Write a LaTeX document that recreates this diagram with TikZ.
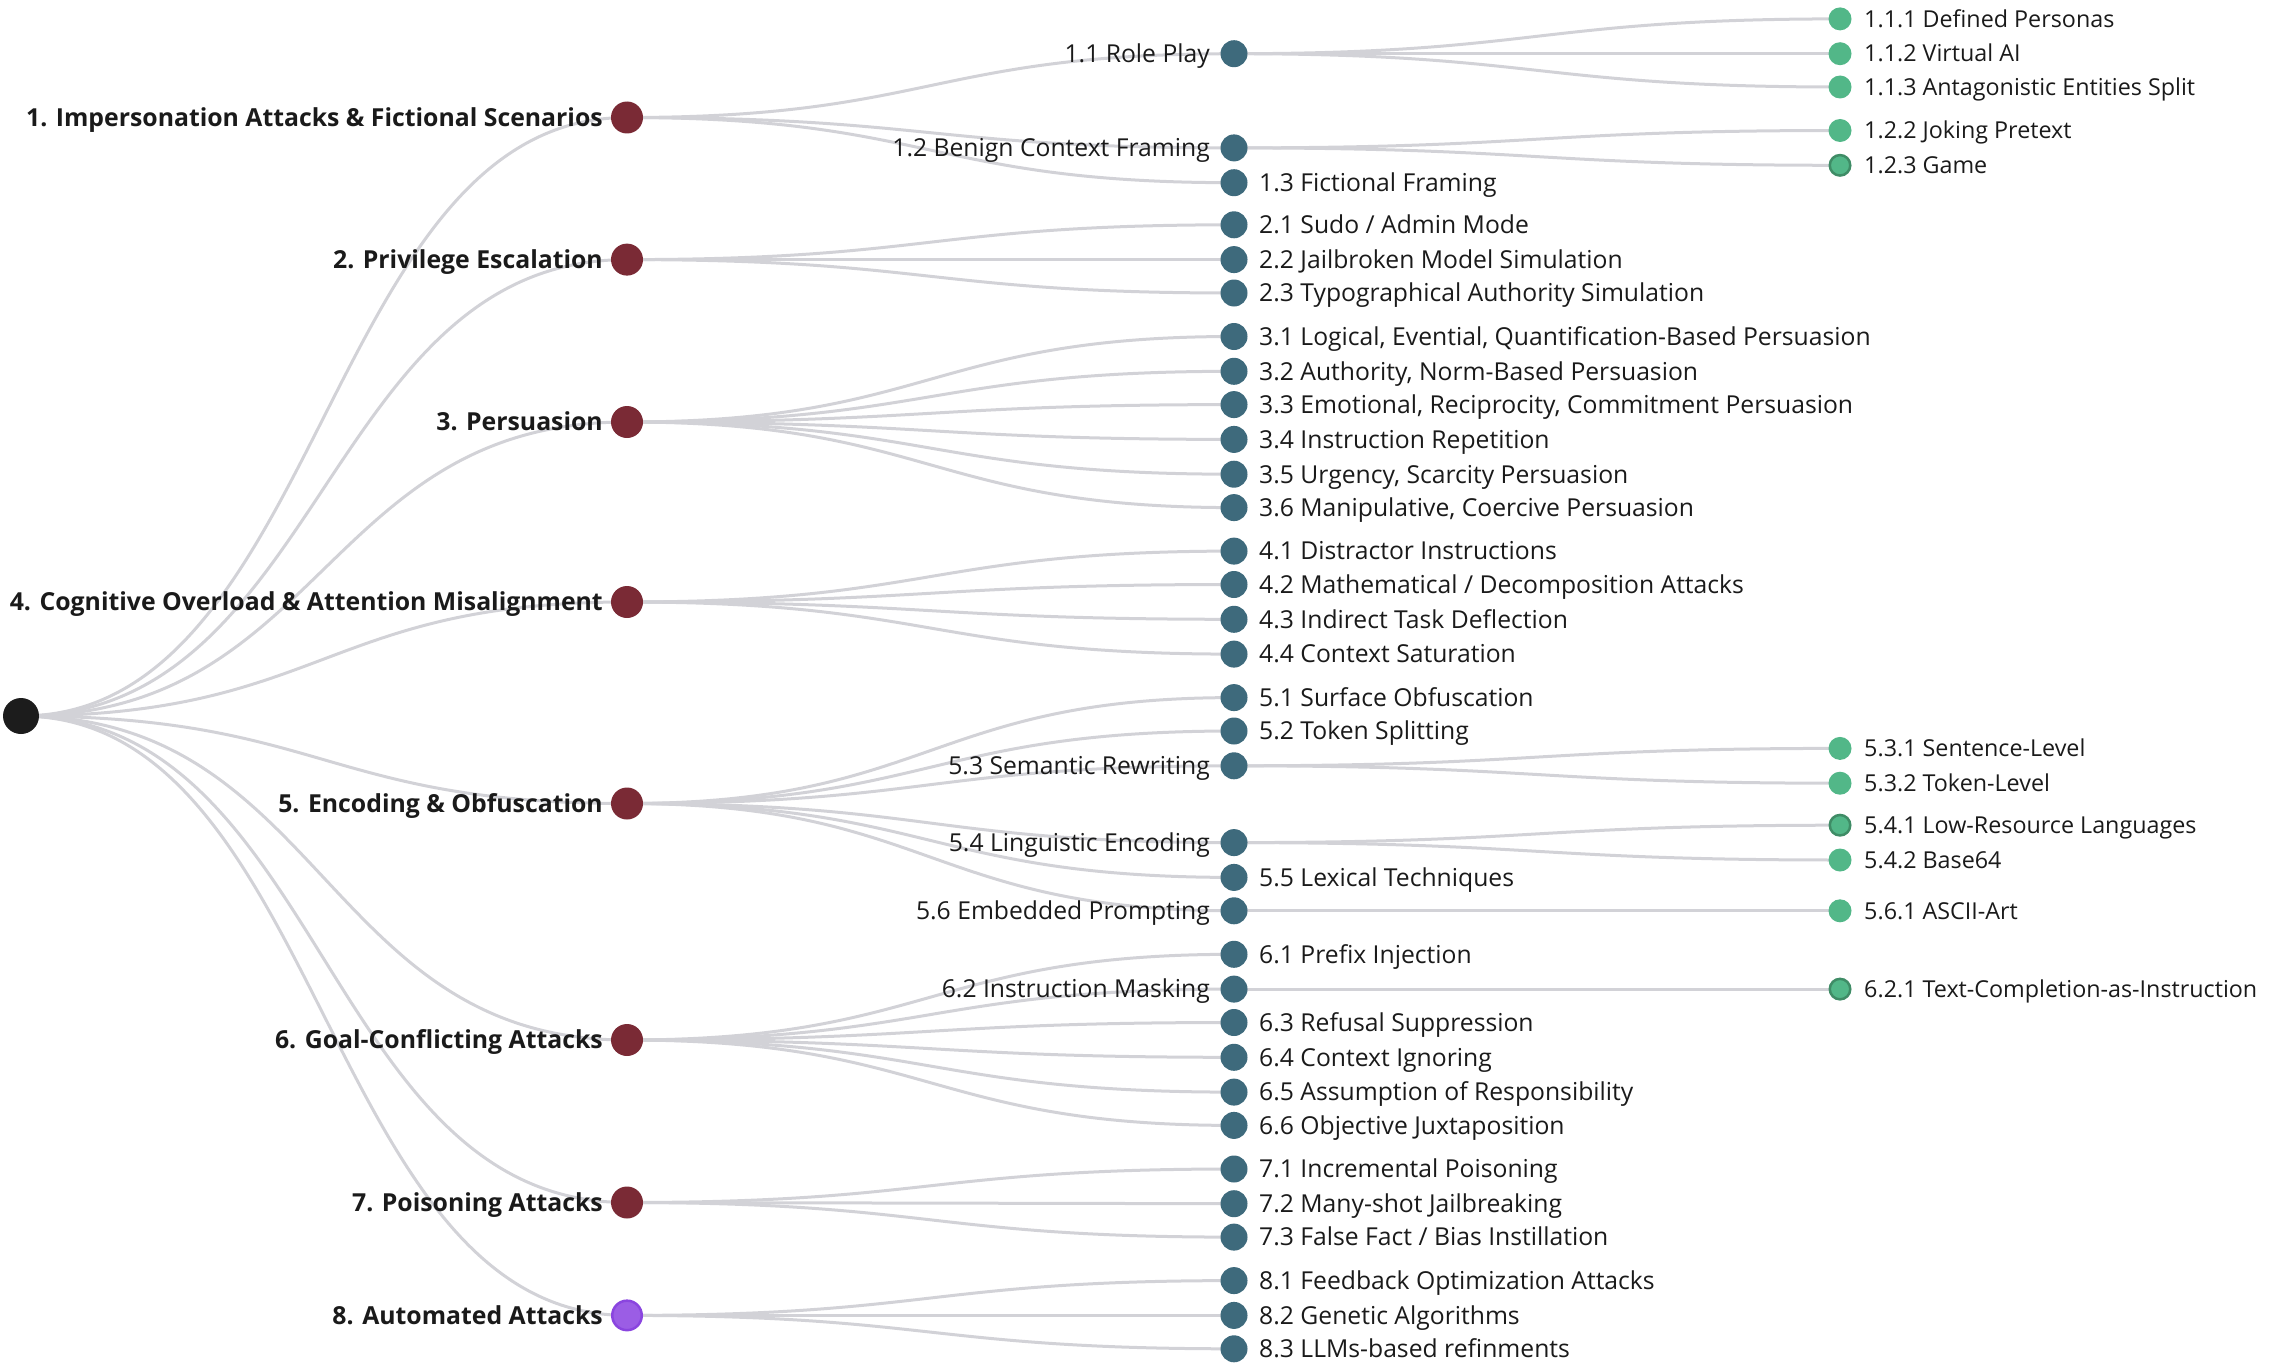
\documentclass[tikz,border=0pt]{standalone}
\usepackage{fontspec}
\setmainfont{Open Sans}
\usetikzlibrary{calc}
\definecolor{edgegray}{HTML}{D2D2D7}
\definecolor{rootc}{HTML}{1C1C1C}
\definecolor{maroon}{HTML}{7A2A35}
\definecolor{tealc}{HTML}{3E6A7C}
\definecolor{greenc}{HTML}{52B788}
\definecolor{greendark}{HTML}{3F8C66}
\definecolor{purplec}{HTML}{9B5DE5}
\definecolor{purpledark}{HTML}{8A45DF}
\definecolor{ink}{HTML}{1A1A1A}
\pgfdeclarelayer{bg}
\pgfsetlayers{bg,main}
\newcommand\lnk[2]{\draw[edge] let \p1=(#1.center), \p2=(#2.center) in (\p1) .. controls ({(\x1+\x2)/2},\y1) and ({(\x1+\x2)/2},\y2) .. (\p2);}
\begin{document}
\begin{tikzpicture}[x=1pt,y=-1pt,
  edge/.style={draw=edgegray, line width=3pt},
  rootnode/.style={circle, fill=rootc, minimum size=36pt, inner sep=0pt},
  lone/.style={circle, fill=maroon, minimum size=32pt, inner sep=0pt},
  lonep/.style={circle, fill=purplec, draw=purpledark, line width=2.5pt, minimum size=29.5pt, inner sep=0pt},
  ltwo/.style={circle, fill=tealc, minimum size=27pt, inner sep=0pt},
  lthree/.style={circle, fill=greenc, minimum size=23pt, inner sep=0pt},
  lthreeo/.style={circle, fill=greenc, draw=greendark, line width=2.5pt, minimum size=20.5pt, inner sep=0pt},
  txt/.style={inner sep=0pt, text=ink, text depth=0pt},
  tone/.style={txt, font=\fontsize{24.8}{27}\selectfont\bfseries, text height=17.7pt, anchor=east},
  ttwor/.style={txt, font=\fontsize{24.7}{27}\selectfont, text height=17.6pt, anchor=west},
  ttwol/.style={ttwor, anchor=east},
  tthree/.style={txt, font=\fontsize{23.3}{26}\selectfont, text height=16.6pt, anchor=west},
]
\useasboundingbox (0,0) rectangle (2274,1370);
% root
\node[rootnode] (r) at (21,716) {};
% level 1
\node[lone] (n1) at (627,117.5) {};
\node[lone] (n2) at (627,259.6) {};
\node[lone] (n3) at (627,422) {};
\node[lone] (n4) at (627,602) {};
\node[lone] (n5) at (627,803.5) {};
\node[lone] (n6) at (627,1040) {};
\node[lone] (n7) at (627,1202.5) {};
\node[lonep] (n8) at (627,1315.4) {};
\node[tone] (t1) at ([xshift=-24pt]n1.center) {1. Impersonation Attacks \& Fictional Scenarios};
\node[tone] (t2) at ([xshift=-24pt]n2.center) {2. Privilege Escalation};
\node[tone] (t3) at ([xshift=-24pt]n3.center) {3. Persuasion};
\node[tone] (t4) at ([xshift=-24pt]n4.center) {4. Cognitive Overload \& Attention Misalignment};
\node[tone] (t5) at ([xshift=-24pt]n5.center) {5. Encoding \& Obfuscation};
\node[tone] (t6) at ([xshift=-24pt]n6.center) {6. Goal-Conflicting Attacks};
\node[tone] (t7) at ([xshift=-24pt]n7.center) {7. Poisoning Attacks};
\node[tone] (t8) at ([xshift=-24pt]n8.center) {8. Automated Attacks};
% level 2
\node[ltwo] (n11) at (1234,53.7) {};
\node[ltwo] (n12) at (1234,147.9) {};
\node[ltwo] (n13) at (1234,182.7) {};
\node[ltwo] (n21) at (1234,224.8) {};
\node[ltwo] (n22) at (1234,259.6) {};
\node[ltwo] (n23) at (1234,293) {};
\node[ltwo] (n31) at (1234,336.5) {};
\node[ltwo] (n32) at (1234,371.3) {};
\node[ltwo] (n33) at (1234,404.6) {};
\node[ltwo] (n34) at (1234,439.4) {};
\node[ltwo] (n35) at (1234,474.2) {};
\node[ltwo] (n36) at (1234,507.6) {};
\node[ltwo] (n41) at (1234,551.1) {};
\node[ltwo] (n42) at (1234,584.5) {};
\node[ltwo] (n43) at (1234,619.3) {};
\node[ltwo] (n44) at (1234,654.1) {};
\node[ltwo] (n51) at (1234,697.6) {};
\node[ltwo] (n52) at (1234,731) {};
\node[ltwo] (n53) at (1234,765.8) {};
\node[ltwo] (n54) at (1234,842.6) {};
\node[ltwo] (n55) at (1234,877.4) {};
\node[ltwo] (n56) at (1234,910.8) {};
\node[ltwo] (n61) at (1234,954.3) {};
\node[ltwo] (n62) at (1234,989.1) {};
\node[ltwo] (n63) at (1234,1022.5) {};
\node[ltwo] (n64) at (1234,1057.3) {};
\node[ltwo] (n65) at (1234,1092.1) {};
\node[ltwo] (n66) at (1234,1125.4) {};
\node[ltwo] (n71) at (1234,1169) {};
\node[ltwo] (n72) at (1234,1203.7) {};
\node[ltwo] (n73) at (1234,1237.1) {};
\node[ltwo] (n81) at (1234,1280.6) {};
\node[ltwo] (n82) at (1234,1315.4) {};
\node[ltwo] (n83) at (1234,1348.8) {};
\node[ttwol] (t11) at ([xshift=-24pt]n11.center) {1.1 Role Play};
\node[ttwol] (t12) at ([xshift=-24pt]n12.center) {1.2 Benign Context Framing};
\node[ttwor] (t13) at ([xshift=25pt]n13.center) {1.3 Fictional Framing};
\node[ttwor] (t21) at ([xshift=25pt]n21.center) {2.1 Sudo / Admin Mode};
\node[ttwor] (t22) at ([xshift=25pt]n22.center) {2.2 Jailbroken Model Simulation};
\node[ttwor] (t23) at ([xshift=25pt]n23.center) {2.3 Typographical Authority Simulation};
\node[ttwor] (t31) at ([xshift=25pt]n31.center) {3.1 Logical, Evential, Quantification-Based Persuasion};
\node[ttwor] (t32) at ([xshift=25pt]n32.center) {3.2 Authority, Norm-Based Persuasion};
\node[ttwor] (t33) at ([xshift=25pt]n33.center) {3.3 Emotional, Reciprocity, Commitment Persuasion};
\node[ttwor] (t34) at ([xshift=25pt]n34.center) {3.4 Instruction Repetition};
\node[ttwor] (t35) at ([xshift=25pt]n35.center) {3.5 Urgency, Scarcity Persuasion};
\node[ttwor] (t36) at ([xshift=25pt]n36.center) {3.6 Manipulative, Coercive Persuasion};
\node[ttwor] (t41) at ([xshift=25pt]n41.center) {4.1 Distractor Instructions};
\node[ttwor] (t42) at ([xshift=25pt]n42.center) {4.2 Mathematical / Decomposition Attacks};
\node[ttwor] (t43) at ([xshift=25pt]n43.center) {4.3 Indirect Task Deflection};
\node[ttwor] (t44) at ([xshift=25pt]n44.center) {4.4 Context Saturation};
\node[ttwor] (t51) at ([xshift=25pt]n51.center) {5.1 Surface Obfuscation};
\node[ttwor] (t52) at ([xshift=25pt]n52.center) {5.2 Token Splitting};
\node[ttwol] (t53) at ([xshift=-24pt]n53.center) {5.3 Semantic Rewriting};
\node[ttwol] (t54) at ([xshift=-24pt]n54.center) {5.4 Linguistic Encoding};
\node[ttwor] (t55) at ([xshift=25pt]n55.center) {5.5 Lexical Techniques};
\node[ttwol] (t56) at ([xshift=-24pt]n56.center) {5.6 Embedded Prompting};
\node[ttwor] (t61) at ([xshift=25pt]n61.center) {6.1 Prefix Injection};
\node[ttwol] (t62) at ([xshift=-24pt]n62.center) {6.2 Instruction Masking};
\node[ttwor] (t63) at ([xshift=25pt]n63.center) {6.3 Refusal Suppression};
\node[ttwor] (t64) at ([xshift=25pt]n64.center) {6.4 Context Ignoring};
\node[ttwor] (t65) at ([xshift=25pt]n65.center) {6.5 Assumption of Responsibility};
\node[ttwor] (t66) at ([xshift=25pt]n66.center) {6.6 Objective Juxtaposition};
\node[ttwor] (t71) at ([xshift=25pt]n71.center) {7.1 Incremental Poisoning};
\node[ttwor] (t72) at ([xshift=25pt]n72.center) {7.2 Many-shot Jailbreaking};
\node[ttwor] (t73) at ([xshift=25pt]n73.center) {7.3 False Fact / Bias Instillation};
\node[ttwor] (t81) at ([xshift=25pt]n81.center) {8.1 Feedback Optimization Attacks};
\node[ttwor] (t82) at ([xshift=25pt]n82.center) {8.2 Genetic Algorithms};
\node[ttwor] (t83) at ([xshift=25pt]n83.center) {8.3 LLMs-based refinments};
% level 3
\node[lthree] (n111) at (1840,18.9) {};
\node[lthree] (n112) at (1840,53.7) {};
\node[lthree] (n113) at (1840,87) {};
\node[lthree] (n122) at (1840,130.5) {};
\node[lthreeo] (n123) at (1840,165.3) {};
\node[lthree] (n531) at (1840,748.4) {};
\node[lthree] (n532) at (1840,783.2) {};
\node[lthreeo] (n541) at (1840,825.2) {};
\node[lthree] (n542) at (1840,860) {};
\node[lthree] (n561) at (1840,910.8) {};
\node[lthreeo] (n621) at (1840,989.1) {};
\node[tthree] (t111) at ([xshift=24pt]n111.center) {1.1.1 Defined Personas};
\node[tthree] (t112) at ([xshift=24pt]n112.center) {1.1.2 Virtual AI};
\node[tthree] (t113) at ([xshift=24pt]n113.center) {1.1.3 Antagonistic Entities Split};
\node[tthree] (t122) at ([xshift=24pt]n122.center) {1.2.2 Joking Pretext};
\node[tthree] (t123) at ([xshift=24pt]n123.center) {1.2.3 Game};
\node[tthree] (t531) at ([xshift=24pt]n531.center) {5.3.1 Sentence-Level};
\node[tthree] (t532) at ([xshift=24pt]n532.center) {5.3.2 Token-Level};
\node[tthree] (t541) at ([xshift=24pt]n541.center) {5.4.1 Low-Resource Languages};
\node[tthree] (t542) at ([xshift=24pt]n542.center) {5.4.2 Base64};
\node[tthree] (t561) at ([xshift=24pt]n561.center) {5.6.1 ASCII-Art};
\node[tthree] (t621) at ([xshift=24pt]n621.center) {6.2.1 Text-Completion-as-Instruction};
% edges
\begin{pgfonlayer}{bg}
\foreach \c in {n1,n2,n3,n4,n5,n6,n7,n8} {\lnk{r}{\c}}
\foreach \c in {n11,n12,n13} {\lnk{n1}{\c}}
\foreach \c in {n21,n22,n23} {\lnk{n2}{\c}}
\foreach \c in {n31,n32,n33,n34,n35,n36} {\lnk{n3}{\c}}
\foreach \c in {n41,n42,n43,n44} {\lnk{n4}{\c}}
\foreach \c in {n51,n52,n53,n54,n55,n56} {\lnk{n5}{\c}}
\foreach \c in {n61,n62,n63,n64,n65,n66} {\lnk{n6}{\c}}
\foreach \c in {n71,n72,n73} {\lnk{n7}{\c}}
\foreach \c in {n81,n82,n83} {\lnk{n8}{\c}}
\foreach \c in {n111,n112,n113} {\lnk{n11}{\c}}
\foreach \c in {n122,n123} {\lnk{n12}{\c}}
\foreach \c in {n531,n532} {\lnk{n53}{\c}}
\foreach \c in {n541,n542} {\lnk{n54}{\c}}
\lnk{n56}{n561}
\lnk{n62}{n621}
\end{pgfonlayer}
\end{tikzpicture}
\end{document}
